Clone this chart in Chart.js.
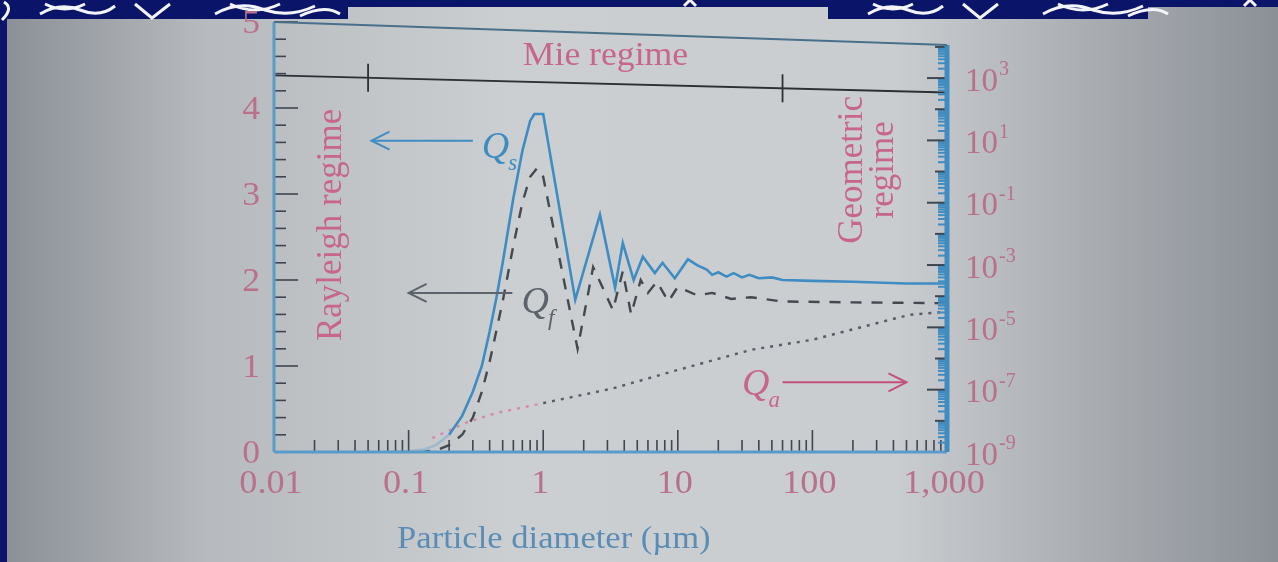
<!DOCTYPE html>
<html>
<head>
<meta charset="utf-8">
<script src="https://cdn.jsdelivr.net/npm/chart.js@4.4.0/dist/chart.umd.min.js"></script>
<style>
  html, body { margin: 0; padding: 0; background: #b8bcc0; }
  canvas { display: block; }
</style>
</head>
<body>
<canvas id="chart" width="1278" height="562"></canvas>
<script>
// Particle diameter (um) vs efficiency
const qsDiam = [0.07, 0.1, 0.13, 0.16, 0.2, 0.25, 0.3, 0.35, 0.4, 0.45, 0.5, 0.6, 0.7, 0.8, 0.86, 1.0, 1.73, 2.64, 3.42, 3.9, 4.7, 5.5, 6.75, 7.7, 9.5, 11.9, 14, 16.4, 18, 20, 23, 26, 30, 34, 40, 50, 60, 100, 200, 500, 1000];
const qsVal  = [0.0, 0.01, 0.03, 0.08, 0.2, 0.42, 0.7, 1.0, 1.4, 1.8, 2.2, 2.95, 3.5, 3.85, 3.93, 3.93, 1.77, 2.76, 1.91, 2.43, 2.0, 2.27, 2.08, 2.2, 2.02, 2.24, 2.17, 2.12, 2.06, 2.09, 2.04, 2.08, 2.03, 2.06, 2.02, 2.03, 2.0, 1.99, 1.98, 1.96, 1.96];

const qfDiam = [0.12, 0.16, 0.2, 0.25, 0.3, 0.35, 0.4, 0.5, 0.6, 0.7, 0.8, 0.9, 1.0, 1.8, 2.35, 3.3, 3.9, 4.5, 5.3, 6.0, 7.0, 8.5, 10, 14, 18, 25, 35, 60, 200, 1000];
const qfVal  = [0.0, 0.02, 0.08, 0.2, 0.4, 0.7, 1.05, 1.75, 2.4, 2.9, 3.2, 3.3, 3.2, 1.2, 2.15, 1.65, 2.1, 1.6, 2.0, 1.85, 1.98, 1.75, 1.92, 1.82, 1.85, 1.78, 1.8, 1.75, 1.74, 1.73];

const qaDiam = [0.15, 0.27, 0.45, 1, 3.3, 10, 35, 100, 520, 1000];
const qaVal  = [2.8e-9, 8.9e-9, 1.8e-8, 3.7e-8, 1.1e-7, 4.3e-7, 1.9e-6, 4.0e-6, 2.5e-5, 3.2e-5];

const xTicks = [0.01, 0.1, 1, 10, 100, 1000];
const xTickLabels = ['0.01', '0.1', '1', '10', '100', '1,000'];
const yTicks = [0, 1, 2, 3, 4, 5];
const y2Ticks = [1e3, 1e1, 1e-1, 1e-3, 1e-5, 1e-7, 1e-9];
const y2TickExp = ['3', '1', '-1', '-3', '-5', '-7', '-9'];
const regimeBounds = [0.05, 60];

const pink = '#c8668a';
const tickPink = '#b97089';
const blue = '#3f8cc3';
const axisBlue = '#5a9cc9';
const dark = '#3e4650';
const serif = '"Liberation Serif", "DejaVu Serif", serif';

function pts(xs, ys) {
    return xs.map((d, i) => ({ x: d, y: ys[i] }));
}

function line(ctx, x1, y1, x2, y2) {
    ctx.beginPath();
    ctx.moveTo(x1, y1);
    ctx.lineTo(x2, y2);
    ctx.stroke();
}

function stretchText(ctx, s, x, y, align, sx) {
    ctx.save();
    ctx.translate(x, y);
    ctx.scale(sx, 1);
    ctx.textAlign = align;
    ctx.fillText(s, 0, 0);
    ctx.restore();
}

function arrow(ctx, x1, x2, y, color) {
    ctx.save();
    ctx.strokeStyle = color;
    ctx.lineWidth = 2;
    line(ctx, x1, y, x2, y);
    const dir = x2 > x1 ? -1 : 1;
    ctx.beginPath();
    ctx.moveTo(x2 + dir * 18, y - 9);
    ctx.lineTo(x2, y);
    ctx.lineTo(x2 + dir * 18, y + 9);
    ctx.stroke();
    ctx.restore();
}

function qLabel(ctx, x, y, sub, color) {
    ctx.save();
    ctx.fillStyle = color;
    ctx.textAlign = 'left';
    ctx.textBaseline = 'alphabetic';
    ctx.font = 'italic 38px ' + serif;
    ctx.fillText('Q', x, y);
    const w = ctx.measureText('Q').width;
    ctx.font = 'italic 23px ' + serif;
    ctx.fillText(sub, x + w - 1, y + 12);
    ctx.restore();
}

function vText(ctx, s, x, y, size, color) {
    ctx.save();
    ctx.translate(x, y);
    ctx.rotate(-Math.PI / 2);
    ctx.fillStyle = color;
    ctx.font = size + 'px ' + serif;
    ctx.textAlign = 'center';
    ctx.textBaseline = 'middle';
    ctx.fillText(s, 0, 0);
    ctx.restore();
}

const backdrop = {
    id: 'backdrop',
    beforeDraw(chart) {
        const ctx = chart.ctx;
        const W = chart.width, H = chart.height;
        const g = ctx.createLinearGradient(0, 0, W, 0);
        g.addColorStop(0, '#8a8f96');
        g.addColorStop(0.16, '#b6babe');
        g.addColorStop(0.4, '#cbcfd1');
        g.addColorStop(0.7, '#c9cdd0');
        g.addColorStop(0.86, '#a8acb1');
        g.addColorStop(1, '#8b9097');
        ctx.save();
        ctx.fillStyle = g;
        ctx.fillRect(0, 0, W, H);

        // navy slide frame with white lace pattern
        ctx.fillStyle = '#0a1468';
        ctx.fillRect(0, 0, W, 7);
        ctx.fillRect(0, 0, 7, H);
        ctx.fillRect(0, 0, 348, 19);
        ctx.fillRect(828, 0, 320, 19);
        ctx.strokeStyle = '#f2f4fa';
        ctx.lineWidth = 3;
        [0, 828].forEach(ox => {
            ctx.beginPath();
            ctx.moveTo(ox + 40, 14); ctx.quadraticCurveTo(ox + 60, 2, ox + 80, 10); ctx.quadraticCurveTo(ox + 100, 18, ox + 115, 6);
            ctx.moveTo(ox + 45, 4); ctx.quadraticCurveTo(ox + 65, 14, ox + 85, 4);
            ctx.moveTo(ox + 135, 4); ctx.lineTo(ox + 152, 18); ctx.lineTo(ox + 170, 4);
            ctx.moveTo(ox + 215, 14); ctx.quadraticCurveTo(ox + 240, 0, ox + 265, 10); ctx.quadraticCurveTo(ox + 290, 18, ox + 315, 6);
            ctx.moveTo(ox + 230, 4); ctx.quadraticCurveTo(ox + 255, 16, ox + 280, 4);
            ctx.moveTo(ox + 300, 16); ctx.quadraticCurveTo(ox + 325, 4, ox + 340, 14);
            ctx.stroke();
        });
        ctx.beginPath();
        ctx.moveTo(2, 20); ctx.quadraticCurveTo(14, 8, 4, 2);
        ctx.moveTo(684, 6); ctx.lineTo(690, 0); ctx.lineTo(696, 6);
        ctx.moveTo(1244, 6); ctx.lineTo(1250, 0); ctx.lineTo(1256, 6);
        ctx.stroke();
        ctx.restore();
    }
};

const frame = {
    id: 'frame',
    afterDraw(chart) {
        const ctx = chart.ctx;
        const a = chart.chartArea;
        const xs = chart.scales.x, ys = chart.scales.y, y2 = chart.scales.y2;
        const px = v => xs.getPixelForValue(v);
        const py = v => ys.getPixelForValue(v);
        const rightTop = a.top + 23;
        ctx.save();

        // Mie regime bar (slanted like the photographed page)
        const yl = py(4.38), yr = py(4.18);
        ctx.strokeStyle = '#2c2f34';
        ctx.lineWidth = 1.8;
        line(ctx, a.left, yl, a.right, yr);
        regimeBounds.forEach(d => {
            const x = px(d);
            const y = yl + (yr - yl) * (x - a.left) / (a.right - a.left);
            line(ctx, x, y - 14, x, y + 14);
        });

        // left ticks
        ctx.strokeStyle = dark;
        ctx.lineWidth = 1.6;
        for (let i = 0; i <= 25; i++) {
            const y = py(i / 5);
            line(ctx, a.left, y, a.left + (i % 5 === 0 ? 24 : 12), y);
        }
        // bottom ticks
        for (let e = -2; e <= 3; e++) {
            for (let m = 1; m <= 9; m++) {
                const v = m * Math.pow(10, e);
                if (v > 1000) break;
                const x = px(v);
                line(ctx, x, a.bottom, x, a.bottom - (m === 1 ? 22 : 12));
            }
        }
        // right ticks
        for (let e = -9; e <= 4; e++) {
            for (let m = 1; m <= 9; m++) {
                const v = m * Math.pow(10, e);
                const y = y2.getPixelForValue(v);
                if (y < rightTop) break;
                if (m === 1) {
                    ctx.strokeStyle = dark;
                    ctx.lineWidth = 2;
                    line(ctx, a.right, y, a.right - (Math.abs(e) % 2 === 1 ? 20 : 12), y);
                } else {
                    ctx.strokeStyle = blue;
                    ctx.lineWidth = 2;
                    line(ctx, a.right, y, a.right - 9, y);
                }
            }
        }

        // frame lines
        ctx.lineWidth = 3;
        ctx.strokeStyle = axisBlue;
        line(ctx, a.left, a.top, a.left, a.bottom);
        line(ctx, a.left, a.bottom, a.right, a.bottom);
        ctx.strokeStyle = blue;
        ctx.lineWidth = 5;
        line(ctx, a.right, rightTop, a.right, a.bottom);
        ctx.strokeStyle = '#48708a';
        ctx.lineWidth = 2;
        line(ctx, a.left, a.top, a.right, rightTop);

        // tick labels
        ctx.fillStyle = tickPink;
        ctx.textBaseline = 'middle';
        ctx.font = '33px ' + serif;
        yTicks.forEach(v => stretchText(ctx, String(v), a.left - 14, py(v) + 2, 'right', 1.08));
        xTicks.forEach((v, i) => stretchText(ctx, xTickLabels[i], px(v) - 3, a.bottom + 32, 'center', 1.1));
        y2Ticks.forEach((v, i) => {
            const y = y2.getPixelForValue(v);
            ctx.font = '33px ' + serif;
            ctx.textAlign = 'left';
            ctx.fillText('10', a.right + 18, y + 4);
            const w = ctx.measureText('10').width;
            ctx.font = '20px ' + serif;
            ctx.fillText(y2TickExp[i], a.right + 19 + w, y - 8);
        });

        // axis title
        ctx.fillStyle = '#5b8cb6';
        ctx.font = '32px ' + serif;
        stretchText(ctx, 'Particle diameter (\u00b5m)', px(1.2), a.bottom + 88, 'center', 1.08);

        // regime labels
        ctx.fillStyle = pink;
        ctx.font = '33px ' + serif;
        ctx.textBaseline = 'alphabetic';
        stretchText(ctx, 'Mie regime', px(2.9), py(4.5), 'center', 1.08);
        vText(ctx, 'Rayleigh regime', px(0.027), py(2.64), 35, pink);
        vText(ctx, 'Geometric', px(200), py(3.28), 35, pink);
        vText(ctx, 'regime', px(340), py(3.28), 35, pink);

        // curve labels and arrows
        arrow(ctx, px(0.30), px(0.053), py(3.62), blue);
        qLabel(ctx, px(0.35), py(3.42), 's', blue);
        arrow(ctx, px(0.59), px(0.1), py(1.85), '#5c636c');
        qLabel(ctx, px(0.69), py(1.62), 'f', '#5c636c');
        arrow(ctx, px(60), px(500), py(0.81), '#c4507e');
        qLabel(ctx, px(30), py(0.66), 'a', pink);

        ctx.restore();
    }
};

const chart = new Chart(document.getElementById('chart'), {
    type: 'line',
    data: {
        datasets: [
            {
                label: 'Qs',
                data: pts(qsDiam, qsVal),
                yAxisID: 'y',
                borderColor: blue,
                borderWidth: 2.6,
                tension: 0,
                segment: {
                    borderColor: c => c.p0.parsed.x < 0.2 ? '#9fb9cc' : blue
                }
            },
            {
                label: 'Qf',
                data: pts(qfDiam, qfVal),
                yAxisID: 'y',
                borderColor: '#434951',
                borderWidth: 2.4,
                borderDash: [11, 10],
                tension: 0
            },
            {
                label: 'Qa',
                data: pts(qaDiam, qaVal),
                yAxisID: 'y2',
                borderColor: '#5c5a68',
                borderWidth: 2.4,
                borderDash: [3, 6],
                tension: 0,
                segment: {
                    borderColor: c => c.p0.parsed.x < 0.6 ? '#d78aa6' : '#5c5a68'
                }
            }
        ]
    },
    options: {
        responsive: false,
        animation: false,
        layout: { padding: { left: 274, right: 331, top: 22, bottom: 110 } },
        elements: { point: { radius: 0 } },
        plugins: {
            legend: { display: false },
            tooltip: { enabled: false }
        },
        scales: {
            x: { type: 'logarithmic', min: 0.01, max: 1000, display: false },
            y: { type: 'linear', min: 0, max: 5, display: false },
            y2: { type: 'logarithmic', position: 'right', min: 1e-9, max: 63000, display: false }
        }
    },
    plugins: [backdrop, frame]
});
</script>
</body>
</html>
